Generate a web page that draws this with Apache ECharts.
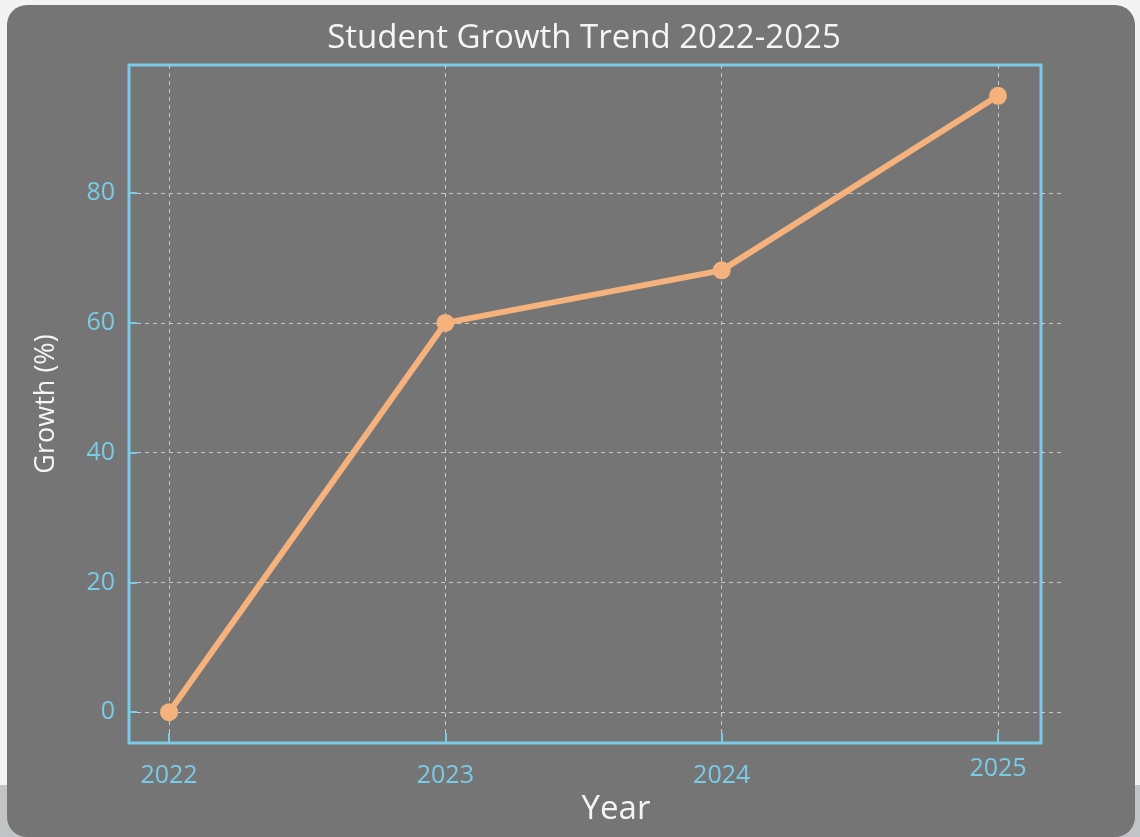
<!DOCTYPE html>
<html>
<head>
<meta charset="utf-8">
<title>Student Growth Trend</title>
<script src="https://cdn.jsdelivr.net/npm/echarts@6/dist/echarts.min.js"></script>
<style>
  html, body { margin: 0; padding: 0; }
  body { width: 1140px; height: 837px; background: #f3f3f3; position: relative; overflow: hidden; }
  .strip { position: absolute; left: 0; top: 785px; width: 1140px; height: 52px; background: #c2c3c4; }
  .panel { position: absolute; left: 7px; top: 5px; width: 1128px; height: 832px; background: #757575; border-radius: 20px; }
  #main { position: absolute; left: 0; top: 0; width: 1140px; height: 837px; }
</style>
</head>
<body>
<div class="strip"></div>
<div class="panel"></div>
<div id="main"></div>
<script>
// data
var years = [2022, 2023, 2024, 2025];
var growth = [0, 60, 68.1, 95];
var yTicks = [0, 20, 40, 60, 80];

var sky = '#7acbe7';
var peach = '#f6b27c';
var font = 'Open Sans';

var points = [];
for (var i = 0; i < years.length; i++) {
  points.push([years[i], growth[i]]);
}

var chart = echarts.init(document.getElementById('main'));
chart.setOption({
  backgroundColor: 'transparent',
  animation: false,
  title: {
    text: 'Student Growth Trend 2022-2025',
    left: 584,
    textAlign: 'center',
    top: 22,
    padding: 0,
    textStyle: { color: '#f5f5f5', fontFamily: font, fontSize: 33, fontWeight: 'normal' }
  },
  grid: [
    // grid for data + dashed grid lines (lines run a bit past the frame on the right)
    { left: 129, top: 65, width: 936, height: 678 },
    // the frame
    { left: 129, top: 65, width: 912, height: 678, show: true, borderColor: sky, borderWidth: 3, backgroundColor: 'transparent' }
  ],
  xAxis: [{
    type: 'value',
    gridIndex: 0,
    min: 2021.855,
    max: 2025.2425,
    name: 'Year',
    nameLocation: 'middle',
    nameGap: 48,
    nameTextStyle: { color: '#f5f5f5', fontFamily: font, fontSize: 33, padding: [0, 0, 0, 38] },
    axisLine: { show: false, onZero: false },
    axisTick: { show: true, inside: true, length: 10, customValues: years, lineStyle: { color: sky, width: 2 } },
    axisLabel: {
      customValues: years,
      color: sky, fontFamily: font, fontSize: 25, margin: 13,
      // the last year label sits a little higher in the original
      formatter: function (v) { return v === 2025 ? '{u|' + v + '}' : '{n|' + v + '}'; },
      rich: {
        n: { color: sky, fontFamily: font, fontSize: 25, padding: [7, 0, 0, 0] },
        u: { color: sky, fontFamily: font, fontSize: 25 }
      }
    },
    splitLine: { show: true, lineStyle: { color: '#c9c9c9', type: [4, 4], width: 1 } }
  }, {
    type: 'value', gridIndex: 1, show: false
  }],
  yAxis: [{
    type: 'value',
    gridIndex: 0,
    min: -4.75,
    max: 99.75,
    name: 'Growth (%)',
    nameLocation: 'middle',
    nameGap: 69,
    nameTextStyle: { color: '#f5f5f5', fontFamily: font, fontSize: 27 },
    axisLine: { show: false, onZero: false },
    axisTick: { show: true, inside: true, length: 8, customValues: yTicks, lineStyle: { color: sky, width: 2 } },
    axisLabel: { customValues: yTicks, color: sky, fontFamily: font, fontSize: 25, margin: 14 },
    splitLine: { show: true, lineStyle: { color: '#c9c9c9', type: [4, 4], width: 1 } }
  }, {
    type: 'value', gridIndex: 1, show: false
  }],
  series: [{
    type: 'line',
    xAxisIndex: 0,
    yAxisIndex: 0,
    data: points,
    symbol: 'circle',
    symbolSize: 18,
    z: 5,
    lineStyle: { color: peach, width: 6 },
    itemStyle: { color: peach }
  }]
});
</script>
</body>
</html>
